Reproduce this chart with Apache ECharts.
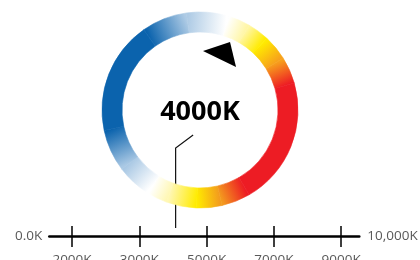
<!DOCTYPE html>
<html lang="en">
<head>
    <meta charset="UTF-8">
    <title>Colour Temperature</title>
    <script src="https://cdn.jsdelivr.net/npm/echarts/dist/echarts.min.js"></script>
    <style>
        body {
            margin: 0;
            padding: 0;
            background-color: #fff;
        }
        #chart {
            width: 420px;
            height: 260px;
        }
    </style>
</head>
<body>
    <div id="chart"></div>

    <script>
        // bar ticks: evenly spaced on the bar, not evenly spaced in kelvin
        const tickLabels = ['2000K', '3000K', '5000K', '7000K', '9000K'];
        const tickPos = [1, 2, 3, 4, 5];
        const endLabels = ['0.0K', '10,000K'];
        const endPos = [0.663, 5.269];

        // selected temperature and its place on the bar
        const markerKelvin = 4000;
        const markerPos = 2.54;

        // colour ring stops: angle in degrees (ccw from 3 o'clock), going clockwise
        const ringAngles = [73, 60, 47, 32, 16, -60, -77, -92, -110, -122, -143, -168, -235, -262, -287];
        const ringColors = ['#ffffff', '#fff6a6', '#ffeb00', '#f7a01c', '#ed1c24', '#ed1c24', '#f39a1e', '#ffeb00',
            '#fff7b4', '#ffffff', '#a9c8e4', '#0b63ad', '#0b63ad', '#aecbe5', '#ffffff'];

        // pointer triangle on the dial: [radius, angle]
        const pointer = [58.8, 70.6];

        const ringCenter = [200, 110];
        const ringRadius = [78, 98];
        const fontFamily = '"Open Sans", sans-serif';

        const chart = echarts.init(document.getElementById('chart'));

        // one slice per pair of stops, each filled with a gradient along its arc
        const ringSlices = [];
        const rm = (ringRadius[0] + ringRadius[1]) / 2;
        for (let i = 0; i < ringAngles.length - 1; i++) {
            const a1 = ringAngles[i] * Math.PI / 180;
            const a2 = ringAngles[i + 1] * Math.PI / 180;
            const grad = new echarts.graphic.LinearGradient(
                ringCenter[0] + rm * Math.cos(a1), ringCenter[1] - rm * Math.sin(a1),
                ringCenter[0] + rm * Math.cos(a2), ringCenter[1] - rm * Math.sin(a2),
                [{ offset: 0, color: ringColors[i] }, { offset: 1, color: ringColors[i + 1] }],
                true
            );
            ringSlices.push({
                value: ringAngles[i] - ringAngles[i + 1],
                itemStyle: { color: grad, borderColor: grad, borderWidth: 0.6 }
            });
        }

        const xBase = {
            type: 'value',
            min: endPos[0],
            max: endPos[1],
            position: 'bottom',
            offset: 0,
            splitLine: { show: false }
        };

        const option = {
            animation: false,
            grid: { left: 49.3, right: 60.7, top: 0, bottom: 24, outerBoundsMode: 'none', containLabel: false },
            xAxis: [
                Object.assign({}, xBase, {
                    axisLine: { show: true, lineStyle: { color: '#000', width: 2.5 } },
                    axisTick: {
                        customValues: tickPos,
                        length: 11,
                        lineStyle: { color: '#000', width: 1.5 }
                    },
                    axisLabel: {
                        customValues: tickPos,
                        margin: 17,
                        fontSize: 13.5,
                        fontFamily: fontFamily,
                        color: '#595959',
                        formatter: v => tickLabels[tickPos.indexOf(v)]
                    }
                }),
                Object.assign({}, xBase, {
                    axisLine: { show: false },
                    axisTick: {
                        customValues: tickPos,
                        inside: true,
                        length: 10,
                        lineStyle: { color: '#000', width: 1.5 }
                    },
                    axisLabel: { show: false }
                })
            ],
            yAxis: { type: 'value', min: 0, max: 1, show: false },
            polar: { center: ringCenter, radius: ringRadius[1] },
            angleAxis: { type: 'value', min: 0, max: 360, startAngle: 0, clockwise: false, show: false },
            radiusAxis: { type: 'value', min: 0, max: ringRadius[1], show: false },
            series: [
                {
                    type: 'pie',
                    center: ringCenter,
                    radius: ringRadius,
                    startAngle: ringAngles[0],
                    clockwise: true,
                    silent: true,
                    label: { show: false },
                    labelLine: { show: false },
                    emphasis: { disabled: true },
                    data: ringSlices
                },
                {
                    // bar end labels
                    type: 'scatter',
                    symbolSize: 0,
                    silent: true,
                    itemStyle: { opacity: 1 },
                    data: endPos.map((p, i) => ({
                        value: [p, 0],
                        label: {
                            show: true,
                            position: i === 0 ? 'left' : 'right',
                            distance: i === 0 ? 7 : 8,
                            formatter: endLabels[i],
                            fontSize: 13.5,
                            fontFamily: fontFamily,
                            color: '#595959'
                        }
                    }))
                },
                {
                    // callout from the value to the big label
                    type: 'custom',
                    silent: true,
                    data: [[markerPos, 0]],
                    renderItem: function (params, api) {
                        const base = api.coord([api.value(0), 0]);
                        const x = base[0];
                        return {
                            type: 'polyline',
                            shape: {
                                points: [[x, base[1] - 8], [x, ringCenter[1] + 38], [x + 17.5, ringCenter[1] + 25]]
                            },
                            style: { stroke: '#111', lineWidth: 1.2, fill: null }
                        };
                    }
                },
                {
                    // pointer triangle
                    type: 'scatter',
                    coordinateSystem: 'polar',
                    silent: true,
                    symbol: 'path://M0,9 L27,0 L33,25 Z',
                    symbolSize: [33, 25],
                    itemStyle: { color: '#000', opacity: 1 },
                    data: [pointer]
                },
                {
                    // big temperature label in the middle of the ring
                    type: 'scatter',
                    coordinateSystem: 'polar',
                    silent: true,
                    symbolSize: 0,
                    itemStyle: { opacity: 1 },
                    data: [[0, 0]],
                    label: {
                        show: true,
                        position: 'inside',
                        offset: [0, 2],
                        formatter: markerKelvin + 'K',
                        fontSize: 27,
                        fontWeight: 'bold',
                        fontFamily: fontFamily,
                        color: '#000'
                    }
                }
            ]
        };

        chart.setOption(option);
    </script>
</body>
</html>
